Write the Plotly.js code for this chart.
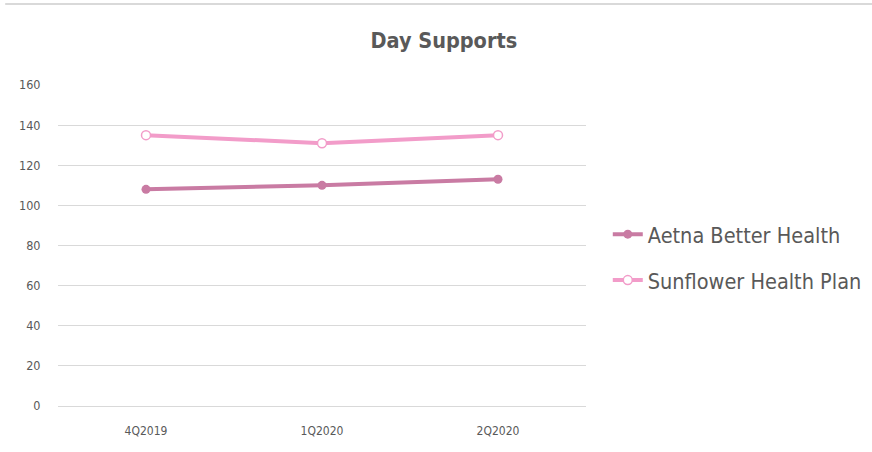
<!DOCTYPE html>
<html>
<head>
<meta charset="utf-8">
<script src="https://cdn.plot.ly/plotly-3.0.1.min.js"></script>
<style>html,body{margin:0;padding:0;background:#fff;}#chart{width:872px;height:452px;}</style>
</head>
<body>
<div id="chart"></div>
<script>
const categories = ["4Q2019", "1Q2020", "2Q2020"];
const aetnaValues = [108, 110, 113];
const sunflowerValues = [135, 131, 135];
const yTickValues = [0, 20, 40, 60, 80, 100, 120, 140, 160];

const fontFam = "'DejaVu Sans Condensed', 'Liberation Sans Narrow', 'Open Sans', sans-serif";
const textColor = "#595959";

const traces = [
  {
    x: categories, y: aetnaValues, name: "Aetna Better Health",
    type: "scatter", mode: "lines+markers", legendgroup: "a",
    line: {color: "#c97ba3", width: 4},
    marker: {color: "#c97ba3", size: 9, symbol: "circle"}
  },
  {
    x: categories, y: sunflowerValues, name: "Sunflower Health Plan",
    type: "scatter", mode: "lines+markers", legendgroup: "b",
    line: {color: "#f29cc9", width: 4},
    marker: {color: "#ffffff", size: 9, symbol: "circle", line: {color: "#f29cc9", width: 1.5}}
  }
];

const layout = {
  width: 872, height: 452,
  margin: {l: 58, r: 286, t: 85, b: 46},
  paper_bgcolor: "#ffffff", plot_bgcolor: "#ffffff",
  font: {family: fontFam, color: textColor},
  title: {
    text: "<b>Day Supports</b>",
    font: {family: fontFam, size: 21.5, color: textColor},
    x: 0.509, xanchor: "center", xref: "container",
    y: 0.91, yanchor: "middle"
  },
  xaxis: {
    type: "category", range: [-0.5, 2.5],
    showgrid: false, zeroline: false, showline: false,
    tickfont: {family: fontFam, size: 12, color: textColor},
    ticks: "outside", ticklen: 14, tickcolor: "rgba(0,0,0,0)",
    fixedrange: true
  },
  yaxis: {
    range: [0, 160], tickvals: yTickValues,
    showgrid: true, gridcolor: "#d9d9d9", gridwidth: 1,
    zeroline: true, zerolinecolor: "#d9d9d9", zerolinewidth: 1,
    showline: false,
    tickfont: {family: fontFam, size: 12.5, color: textColor},
    ticks: "outside", ticklen: 14, tickcolor: "rgba(0,0,0,0)",
    fixedrange: true
  },
  legend: {
    xref: "container", yref: "container",
    x: 0.697, xanchor: "left", y: 0.431, yanchor: "middle",
    font: {family: fontFam, size: 21.5, color: textColor},
    traceorder: "grouped", tracegroupgap: 15,
    itemwidth: 30, bgcolor: "rgba(0,0,0,0)"
  },
  shapes: [{
    type: "line", xref: "paper", yref: "paper",
    x0: -0.1, x1: 1.6, y0: 1.252, y1: 1.252,
    line: {color: "#d9d9d9", width: 2}
  }],
  showlegend: true
};

Plotly.newPlot("chart", traces, layout, {displayModeBar: false, staticPlot: true});
</script>
</body>
</html>
